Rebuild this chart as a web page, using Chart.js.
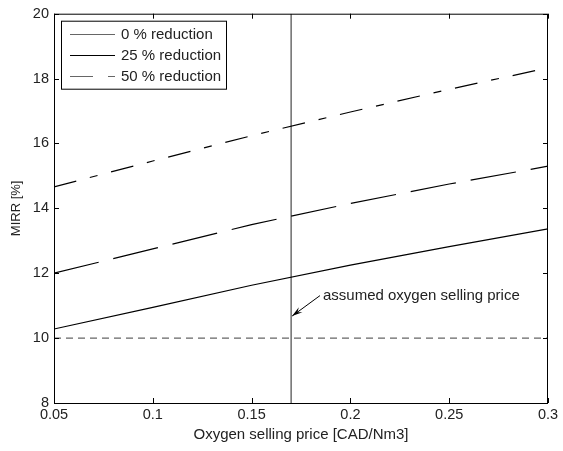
<!DOCTYPE html>
<html>
  <head>
    <title>MIRR vs oxygen price</title>
    <meta charset="utf-8">
    <script src="https://cdn.jsdelivr.net/npm/chart.js@4.4.1/dist/chart.umd.min.js"></script>
    <style>
      body { margin: 0; background: white; }
      #wrap { width: 563px; height: 451px; }
    </style>
  </head>
  <body>
    <div id="wrap"><canvas id="myChart"></canvas></div>
    <script>
      // oxygen selling price [CAD/Nm3]
      var price = [0.05, 0.1, 0.15, 0.2, 0.25, 0.3];
      // MIRR [%] for each cost reduction case
      var mirr0  = [10.28, 10.95, 11.63, 12.25, 12.82, 13.37];
      var mirr25 = [12.0, 12.75, 13.5, 14.15, 14.75, 15.3];
      var mirr50 = [14.66, 15.46, 16.24, 16.97, 17.67, 18.33];

      var xTicks = [0.05, 0.1, 0.15, 0.2, 0.25, 0.3];
      var xTickLabels = ['0.05', '0.1', '0.15', '0.2', '0.25', '0.3'];
      var yTicks = [8, 10, 12, 14, 16, 18, 20];

      var assumedPrice = 0.17;
      var hurdleRate = 10;
      var noteText = 'assumed oxygen selling price';
      var legendLabels = ['0 % reduction', '25 % reduction', '50 % reduction'];

      function pts(ys) {
        return price.map(function (p, i) { return { x: p, y: ys[i] }; });
      }

      var FONT = '"Liberation Sans", Arial, sans-serif';
      Chart.defaults.font.family = FONT;
      Chart.defaults.font.size = 14.5;
      Chart.defaults.color = '#222';

      // box, inward ticks, arrow note and legend, matlab style
      var decor = {
        id: 'decor',
        afterDatasetsDraw: function (chart) {
          var ctx = chart.ctx, a = chart.chartArea;
          var xs = chart.scales.x, ys = chart.scales.y;
          ctx.save();
          ctx.strokeStyle = '#000';
          ctx.lineWidth = 1;
          ctx.setLineDash([]);
          ctx.strokeRect(a.left + 0.5, a.top + 0.5, a.right - a.left - 1, a.bottom - a.top);
          ctx.beginPath();
          xTicks.forEach(function (v) {
            var px = Math.round(xs.getPixelForValue(v)) + 0.5;
            ctx.moveTo(px, a.bottom); ctx.lineTo(px, a.bottom - 5);
            ctx.moveTo(px, a.top); ctx.lineTo(px, a.top + 5);
          });
          yTicks.forEach(function (v) {
            var py = Math.round(ys.getPixelForValue(v)) + 0.5;
            ctx.moveTo(a.left, py); ctx.lineTo(a.left + 5, py);
            ctx.moveTo(a.right, py); ctx.lineTo(a.right - 5, py);
          });
          ctx.stroke();

          // arrow pointing at the assumed price line
          var tx = xs.getPixelForValue(0.1846), ty = ys.getPixelForValue(11.31);
          var hx = xs.getPixelForValue(assumedPrice) + 1, hy = ys.getPixelForValue(10.68);
          ctx.beginPath();
          ctx.moveTo(tx, ty); ctx.lineTo(hx, hy);
          ctx.stroke();
          var ang = Math.atan2(hy - ty, hx - tx), L = 11, w = 0.28;
          ctx.beginPath();
          ctx.moveTo(hx, hy);
          ctx.lineTo(hx - L * Math.cos(ang - w), hy - L * Math.sin(ang - w));
          ctx.lineTo(hx - 0.6 * L * Math.cos(ang), hy - 0.6 * L * Math.sin(ang));
          ctx.lineTo(hx - L * Math.cos(ang + w), hy - L * Math.sin(ang + w));
          ctx.closePath();
          ctx.fillStyle = '#000';
          ctx.fill();
          ctx.font = '15px ' + FONT;
          ctx.fillStyle = '#222';
          ctx.textBaseline = 'middle';
          ctx.textAlign = 'left';
          ctx.fillText(noteText, tx + 3, ty);

          // legend box
          var lx = a.left + 7, ly = a.top + 7, lw = 165, lh = 68;
          ctx.fillStyle = '#fff';
          ctx.fillRect(lx, ly, lw, lh);
          ctx.strokeStyle = '#000';
          ctx.strokeRect(lx + 0.5, ly + 0.5, lw, lh);
          var styles = [
            { color: '#666', dash: [] },
            { color: '#000', dash: [] },
            { color: '#666', dash: [23, 15] }
          ];
          legendLabels.forEach(function (t, i) {
            var yy = Math.round(ly + 13 + i * 21) + 0.5;
            ctx.beginPath();
            ctx.strokeStyle = styles[i].color;
            ctx.setLineDash(styles[i].dash);
            ctx.moveTo(lx + 9, yy); ctx.lineTo(lx + 54, yy);
            ctx.stroke();
            ctx.setLineDash([]);
            ctx.fillStyle = '#222';
            ctx.fillText(t, lx + 60, yy);
          });
          ctx.restore();
        }
      };

      var ctx = document.getElementById('myChart').getContext('2d');
      var myChart = new Chart(ctx, {
        type: 'line',
        data: {
          datasets: [{
            label: legendLabels[0],
            data: pts(mirr0),
            borderColor: '#000',
            borderWidth: 1.2,
            pointRadius: 0
          }, {
            label: legendLabels[1],
            data: pts(mirr25),
            borderColor: '#000',
            borderWidth: 1.2,
            borderDash: [46, 15],
            pointRadius: 0
          }, {
            label: legendLabels[2],
            data: pts(mirr50),
            borderColor: '#000',
            borderWidth: 1.2,
            borderDash: [23, 14, 8, 14],
            pointRadius: 0
          }, {
            label: 'hurdle',
            data: [{ x: price[0], y: hurdleRate }, { x: price[price.length - 1], y: hurdleRate }],
            borderColor: '#666',
            borderWidth: 1.2,
            borderDash: [7, 5],
            pointRadius: 0
          }, {
            label: 'assumed',
            data: [{ x: assumedPrice, y: 8 }, { x: assumedPrice, y: 20 }],
            borderColor: '#555',
            borderWidth: 1.3,
            pointRadius: 0
          }]
        },
        options: {
          responsive: true,
          maintainAspectRatio: false,
          animation: false,
          layout: { padding: { top: 13, right: 15, left: 0, bottom: 0 } },
          plugins: { legend: { display: false }, tooltip: { enabled: false } },
          scales: {
            x: {
              type: 'linear',
              min: 0.05,
              max: 0.3,
              grid: { display: false, drawTicks: false },
              border: { display: false },
              afterBuildTicks: function (s) { s.ticks = xTicks.map(function (v) { return { value: v }; }); },
              afterFit: function (s) { s.height = 48; },
              ticks: {
                padding: 3,
                maxRotation: 0,
                callback: function (v) { return xTickLabels[xTicks.indexOf(v)]; }
              },
              title: { display: true, text: 'Oxygen selling price [CAD/Nm3]', font: { size: 15 }, padding: { top: 0, bottom: 7 } }
            },
            y: {
              min: 8,
              max: 20,
              grid: { display: false, drawTicks: false },
              border: { display: false },
              afterBuildTicks: function (s) { s.ticks = yTicks.map(function (v) { return { value: v }; }); },
              afterFit: function (s) { s.width = 54; },
              ticks: { padding: 5 },
              title: { display: true, text: 'MIRR [%]', font: { size: 13 }, padding: { top: 9, bottom: 0 } }
            }
          }
        },
        plugins: [decor]
      });
    </script>
  </body>
</html>
